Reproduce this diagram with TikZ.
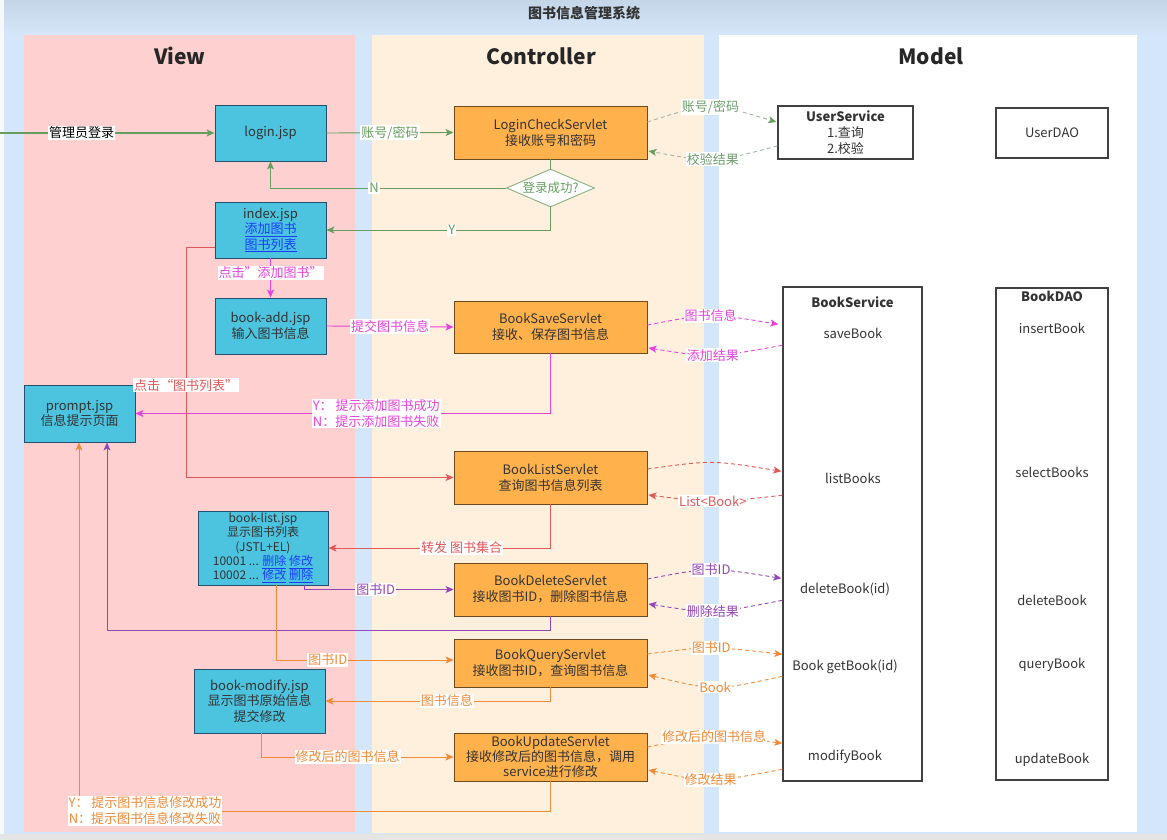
\documentclass[tikz,border=0pt]{standalone}
\usepackage{fontspec}
\setmainfont{Noto Sans CJK SC}
\usetikzlibrary{shapes.geometric,arrows.meta,calc}
\definecolor{bgblue}{HTML}{D4E6F9}
\definecolor{topblue}{HTML}{C4D5E8}
\definecolor{viewbg}{HTML}{FFD0D0}
\definecolor{ctrlbg}{HTML}{FFF0DE}
\definecolor{jspfill}{HTML}{4CC4E0}
\definecolor{jspdraw}{HTML}{23506E}
\definecolor{srvfill}{HTML}{FFB24C}
\definecolor{srvdraw}{HTML}{6E4B1C}
\definecolor{cgreen}{HTML}{679D5E}
\definecolor{cgreendash}{HTML}{A2B4A2}
\definecolor{cgreenlbl}{HTML}{6E9E6E}
\definecolor{cmag}{HTML}{E543DB}
\definecolor{cred}{HTML}{E05858}
\definecolor{cpurple}{HTML}{9446B4}
\definecolor{corange}{HTML}{F08A36}
\definecolor{linkc}{HTML}{1A3CFF}
\definecolor{txt}{HTML}{333333}
\newcommand\fsz[2]{\fontsize{#1}{#2}\selectfont}
\newcommand\lnk[1]{\textcolor{linkc}{\underline{#1}}}
\begin{document}
\begin{tikzpicture}[x=1pt,y=-1pt,
  jsp/.style={draw=jspdraw, fill=jspfill, line width=0.9pt, align=center, inner sep=0pt, text=txt, font=\fsz{13}{15.5}},
  srv/.style={draw=srvdraw, fill=srvfill, line width=0.9pt, align=center, minimum width=193pt, inner sep=0pt, text=txt, font=\fsz{13}{16}},
  mdl/.style={draw=black!75, line width=1.4pt, fill=white, inner sep=0pt, align=center, text=txt, font=\fsz{13}{16}},
  mtxt/.style={inner sep=1pt, text=txt, font=\fsz{13}{16}},
  hdr/.style={font=\bfseries\fsz{21}{24}, text=black!85},
  lbl/.style={fill=white, inner sep=1pt, font=\fsz{13}{16}, align=center},
  conn/.style={line width=0.9pt, -{Stealth[length=8pt,width=7pt,inset=2pt]}},
  dconn/.style={conn, dash pattern=on 4pt off 3pt}]
\useasboundingbox (0,0) rectangle (1167,840);
\fill[bgblue] (0,0) rectangle (1167,840);
\shade[top color=topblue,bottom color=bgblue] (0,0) rectangle (1167,34);
\fill[white!75!bgblue] (0,0) rectangle (4,840);
\fill[black!10] (0,834) rectangle (1167,840);
\node[font=\bfseries\fsz{14}{16}, text=txt] (title) at (584,13) {图书信息管理系统};
% panels
\fill[viewbg] (24,35) rectangle (355,832);
\fill[ctrlbg] (372,35) rectangle (704,833);
\fill[white] (719,35) rectangle (1137,832);
\node[hdr] (hview) at (180,56) {View};
\node[hdr] (hctrl) at (541,56) {Controller};
\node[hdr] (hmodel) at (931,56) {Model};
% view nodes
\node[jsp, minimum width=111pt, minimum height=56pt] (login) at (270.5,133) {login.jsp};
\node[jsp, minimum width=111pt, minimum height=56pt] (index) at (270.5,230) {index.jsp\\\lnk{添加图书}\\\lnk{图书列表}};
\node[jsp, minimum width=111pt, minimum height=56pt] (bookadd) at (270.5,326) {book-add.jsp\\输入图书信息};
\node[jsp, minimum width=111pt, minimum height=57pt] (prompt) at (79.5,413.5) {prompt.jsp\\信息提示页面};
\node[jsp, minimum width=130pt, minimum height=74pt, font=\fsz{12}{14.3}] (booklist) at (263,548) {book-list.jsp\\显示图书列表\\(JSTL+EL)\\10001 ... \lnk{删除} \lnk{修改}\\10002 ... \lnk{修改} \lnk{删除}};
\node[jsp, minimum width=131pt, minimum height=64pt] (bookmodify) at (259.5,701) {book-modify.jsp\\显示图书原始信息\\提交修改};
% controller nodes
\node[srv, minimum height=53pt] (lcs) at (550.5,132.5) {LoginCheckServlet\\接收账号和密码};
\node[diamond, draw=cgreen!80!white, fill=white, line width=0.9pt, minimum width=88pt, minimum height=38pt, aspect=2.3, inner sep=0pt, text=cgreen, font=\fsz{12.5}{14}] (dia) at (550.5,188) {登录成功?};
\node[srv, minimum height=52pt] (bsave) at (550.5,327) {BookSaveServlet\\接收、保存图书信息};
\node[srv, minimum height=53pt] (blist) at (550.5,477.5) {BookListServlet\\查询图书信息列表};
\node[srv, minimum height=53pt] (bdel) at (550.5,589.5) {BookDeleteServlet\\接收图书ID，删除图书信息};
\node[srv, minimum height=48pt] (bquery) at (550.5,663) {BookQueryServlet\\接收图书ID，查询图书信息};
\node[srv, minimum height=48pt, font=\fsz{13}{15}] (bupd) at (550.5,757) {BookUpdateServlet\\接收修改后的图书信息，调用\\service进行修改};
% model nodes
\node[mdl, minimum width=135pt, minimum height=53pt] (us) at (845.5,132.5) {\textbf{UserService}\\1.查询\\2.校验};
\node[mdl, minimum width=112pt, minimum height=50pt] (udao) at (1052,133) {UserDAO};
\node[mdl, minimum width=139pt, minimum height=494pt] (bs) at (852.5,534) {};
\node[mdl, minimum width=112pt, minimum height=492pt] (bdao) at (1052,534) {};
\node[mtxt, font=\bfseries\fsz{13}{16}] (bst) at (852.5,302) {BookService};
\node[mtxt, font=\bfseries\fsz{13}{16}] (bdt) at (1052,296) {BookDAO};
\node[mtxt] (m1) at (853,333) {saveBook};
\node[mtxt] (m2) at (853,478) {listBooks};
\node[mtxt] (m3) at (845,589) {deleteBook(id)};
\node[mtxt] (m4) at (845,667) {Book getBook(id)};
\node[mtxt] (m5) at (845,757) {modifyBook};
\node[mtxt] (d1) at (1052,328) {insertBook};
\node[mtxt] (d2) at (1052,472) {selectBooks};
\node[mtxt] (d3) at (1052,600) {deleteBook};
\node[mtxt] (d4) at (1052,665) {queryBook};
\node[mtxt] (d5) at (1052,760) {updateBook};
% ---- green connectors
\coordinate (entry) at (0,133);
\draw[conn, cgreen, line width=1.6pt] (entry) -- (login.west) node[pos=0.38, lbl, text=black]{管理员登录};
\draw[conn, cgreen] (login.east) -- (lcs.west) node[midway, lbl, text=cgreen]{账号/密码};
\draw[cgreen, line width=0.9pt] (lcs.south) -- (dia.north);
\draw[conn, cgreen] (dia.west) -| (login.south) node[pos=0.28, lbl, text=cgreen]{N};
\draw[conn, cgreen] (dia.south) |- (index.east) node[pos=0.72, lbl, text=cgreen]{Y};
\draw[dconn, cgreendash, -{Stealth[length=8pt,width=7pt,inset=2pt,color=cgreen]}] ([yshift=10.5pt]lcs.east) .. controls (710,102) .. ([xshift=-1pt,yshift=10.5pt]us.west) node[pos=0.5, lbl, text=cgreenlbl]{账号/密码};
\draw[dconn, cgreendash, -{Stealth[length=8pt,width=7pt,inset=2pt,color=cgreen]}] ([yshift=-13.5pt]us.west) .. controls (713,163) .. ([xshift=1pt,yshift=-18.5pt]lcs.east) node[pos=0.5, lbl, text=cgreenlbl]{校验结果};
% ---- magenta
\draw[conn, cmag] (index.south) -- (bookadd.north) node[pos=0.37, lbl, text=cmag]{点击"添加图书"};
\draw[conn, cmag] (bookadd.east) -- (bsave.west) node[midway, lbl, text=cmag]{提交图书信息};
\draw[conn, cmag] (bsave.south) |- (prompt.east) node[pos=0.71, lbl, text=cmag]{Y： 提示添加图书成功\\N：提示添加图书失败};
\draw[dconn, cmag] ([yshift=2pt]bsave.east) .. controls (710,313) .. ([xshift=-4pt,yshift=-38pt]bs.north west) node[pos=0.5, lbl, text=cmag]{图书信息};
\draw[dconn, cmag] ([yshift=-59pt]bs.north west) .. controls (712,358) .. ([xshift=1pt,yshift=-21pt]bsave.east) node[pos=0.5, lbl, text=cmag]{添加结果};
% ---- red
\coordinate (rx) at (186,0);
\draw[conn, cred] ([yshift=-17pt]index.west) -| (rx |- blist.west) node[pos=0.8, lbl, text=cred]{点击“图书列表”} -- (blist.west);
\draw[conn, cred] (blist.south) |- (booklist.east) node[pos=0.70, lbl, text=cred]{转发 图书集合};
\draw[dconn, cred] ([yshift=8.5pt]blist.east) .. controls (712,460) .. ([xshift=-1pt,yshift=-185pt]bs.north west);
\draw[dconn, cred] ([yshift=-209pt]bs.north west) .. controls (712,503) .. ([xshift=1pt,yshift=-17.5pt]blist.east) node[pos=0.5, lbl, text=cred]{List<Book>};
% ---- purple
\draw[conn, cpurple] ([xshift=41pt]booklist.south) |- (bdel.west) node[pos=0.74, lbl, text=cpurple]{图书ID};
\draw[conn, cpurple] (bdel.south) -- ++(0,13.5) -| ([xshift=27.5pt]prompt.south);
\draw[dconn, cpurple] ([yshift=10.5pt]bdel.east) .. controls (710,567) .. ([xshift=-1pt,yshift=-292pt]bs.north west) node[pos=0.5, lbl, text=cpurple]{图书ID};
\draw[dconn, cpurple] ([yshift=-314pt]bs.north west) .. controls (712,614) .. ([xshift=1pt,yshift=-14.5pt]bdel.east) node[pos=0.5, lbl, text=cpurple]{删除结果};
% ---- orange
\draw[conn, corange] ([xshift=13pt]booklist.south) |- ([yshift=3pt]bquery.west) node[pos=0.646, lbl, text=corange]{图书ID};
\draw[conn, corange] (bquery.south) |- (bookmodify.east) node[pos=0.73, lbl, text=corange]{图书信息};
\draw[conn, corange] ([xshift=1.5pt]bookmodify.south) |- (bupd.west) node[pos=0.725, lbl, text=corange]{修改后的图书信息};
\draw[conn, corange] (bupd.south) -- ++(0,29.5) -| ([xshift=-0.5pt]prompt.south) node[pos=0.43, lbl, text=corange]{Y： 提示图书信息修改成功\\N：提示图书信息修改失败};
\draw[dconn, corange] ([yshift=9pt]bquery.east) .. controls (710,646) .. ([xshift=0pt,yshift=-368pt]bs.north west) node[pos=0.5, lbl, text=corange]{图书ID};
\draw[dconn, corange] ([yshift=-390pt]bs.north west) .. controls (715,691) .. ([xshift=1pt,yshift=-12pt]bquery.east) node[pos=0.5, lbl, text=corange]{Book};
\draw[dconn, corange] ([yshift=10pt]bupd.east) .. controls (714,734) .. ([xshift=0pt,yshift=-457pt]bs.north west) node[pos=0.5, lbl, text=corange]{修改后的图书信息};
\draw[dconn, corange] ([yshift=-483pt]bs.north west) .. controls (709,783) .. ([xshift=1pt,yshift=-13pt]bupd.east) node[pos=0.5, lbl, text=corange]{修改结果};
\end{tikzpicture}
\end{document}
